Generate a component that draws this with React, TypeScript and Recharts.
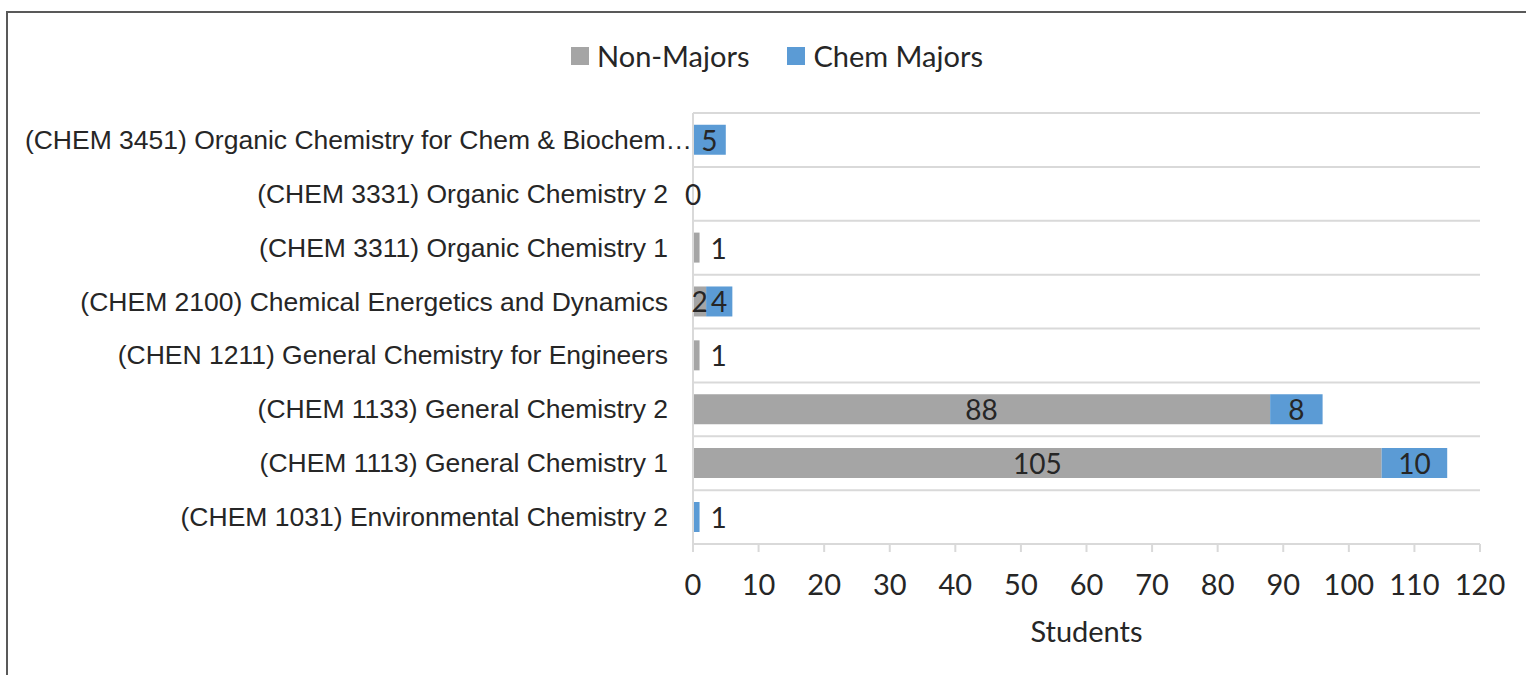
import React from "react";
import {
  BarChart,
  Bar,
  XAxis,
  YAxis,
  CartesianGrid,
  Legend,
  LabelList,
} from "recharts";

// top to bottom, as in the picture
const courses = [
  "(CHEM 3451) Organic Chemistry for Chem & Biochem…",
  "(CHEM 3331) Organic Chemistry 2",
  "(CHEM 3311) Organic Chemistry 1",
  "(CHEM 2100) Chemical Energetics and Dynamics",
  "(CHEN 1211) General Chemistry for Engineers",
  "(CHEM 1133) General Chemistry 2",
  "(CHEM 1113) General Chemistry 1",
  "(CHEM 1031) Environmental Chemistry 2",
];
const nonMajors = [null, 0, 1, 2, 1, 88, 105, null];
const chemMajors = [5, null, null, 4, null, 8, 10, 1];
const xTicks = [0, 10, 20, 30, 40, 50, 60, 70, 80, 90, 100, 110, 120];

const GRAY = "#A5A5A5";
const BLUE = "#5B9BD5";
const GRID = "#D9D9D9";
const SANS = "Lato, 'Open Sans', sans-serif";

const data = courses.map((name, i) => ({
  name,
  nonMajors: nonMajors[i],
  chemMajors: chemMajors[i],
}));

const renderLabel = (props: any) => {
  const { x, y, width, height, value } = props;
  if (value === null || value === undefined) return null;
  // too thin for the number -> put it just after the bar
  const small = value > 0 && width < 10;
  return (
    <text
      x={small ? x + width + 11 : x + width / 2}
      y={y + height / 2}
      textAnchor={small ? "start" : "middle"}
      dominantBaseline="central"
      fontFamily={SANS}
      fontSize={28}
      fill="#262626"
    >
      {value}
    </text>
  );
};

// category labels; the truncated one runs up to the axis like in Excel
const CourseTick = (props: any) => {
  const { x, y, payload } = props;
  const cut = String(payload.value).endsWith("…");
  return (
    <text
      x={cut ? x + 24 : x}
      y={y}
      textAnchor="end"
      dominantBaseline="central"
      fill="#262626"
      fontSize={26.5}
      fontFamily="'Liberation Sans', Arial, sans-serif"
    >
      {payload.value}
    </text>
  );
};

const renderLegend = () => (
  <div
    style={{
      display: "flex",
      justifyContent: "center",
      alignItems: "center",
      fontFamily: SANS,
      fontSize: 29,
      color: "#262626",
      gap: 38,
    }}
  >
    {[
      { label: "Non-Majors", color: GRAY },
      { label: "Chem Majors", color: BLUE },
    ].map((it) => (
      <div key={it.label} style={{ display: "flex", alignItems: "center" }}>
        <span
          style={{
            width: 18,
            height: 18,
            background: it.color,
            display: "inline-block",
            marginRight: 8,
          }}
        />
        {it.label}
      </div>
    ))}
  </div>
);

export default function App() {
  return (
    <div
      style={{
        position: "absolute",
        left: 0,
        top: 0,
        width: 1526,
        height: 675,
        background: "#fff",
        overflow: "hidden",
      }}
    >
      <div
        style={{
          position: "absolute",
          left: 6,
          top: 11,
          right: 0,
          bottom: 0,
          borderTop: "2px solid #595959",
          borderLeft: "2px solid #595959",
        }}
      />
      <BarChart
        width={1526}
        height={675}
        data={data}
        layout="vertical"
        barCategoryGap="22%"
        margin={{ top: 78, right: 46, left: 0, bottom: 0 }}
        style={{ position: "absolute", left: 0, top: 0 }}
      >
        <CartesianGrid
          vertical={false}
          stroke={GRID}
          strokeWidth={2}
          horizontalCoordinatesGenerator={({ offset }: any) =>
            courses
              .concat([""])
              .map((_, i) => offset.top + (i * offset.height) / courses.length)
          }
        />
        <XAxis
          type="number"
          domain={[0, 120]}
          ticks={xTicks}
          interval={0}
          height={131}
          stroke={GRID}
          strokeWidth={2}
          tickSize={8}
          tickMargin={22}
          tick={{ fill: "#262626", fontSize: 29, fontFamily: SANS }}
          label={{
            value: "Students",
            position: "insideBottom",
            offset: 33,
            fill: "#262626",
            fontSize: 29,
            fontFamily: SANS,
          }}
        />
        <YAxis
          type="category"
          dataKey="name"
          width={693}
          interval={0}
          stroke={GRID}
          strokeWidth={2}
          tickLine={false}
          tickSize={0}
          tickMargin={25}
          tick={<CourseTick />}
        />
        <Legend
          verticalAlign="top"
          content={renderLegend}
          wrapperStyle={{ top: 38, left: 14, width: 1526 }}
        />
        <Bar
          dataKey="nonMajors"
          name="Non-Majors"
          stackId="a"
          fill={GRAY}
          minPointSize={(v: any) => (v === 0 ? 0.01 : 0)}
          isAnimationActive={false}
        >
          <LabelList dataKey="nonMajors" content={renderLabel} />
        </Bar>
        <Bar
          dataKey="chemMajors"
          name="Chem Majors"
          stackId="a"
          fill={BLUE}
          isAnimationActive={false}
        >
          <LabelList dataKey="chemMajors" content={renderLabel} />
        </Bar>
      </BarChart>
    </div>
  );
}
